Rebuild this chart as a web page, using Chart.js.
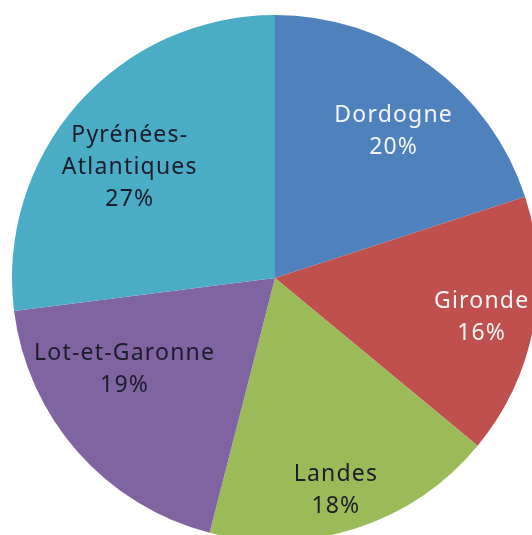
<!DOCTYPE html>
<html>
<head>
<meta charset="utf-8">
<script src="https://cdn.jsdelivr.net/npm/chart.js@4/dist/chart.umd.min.js"></script>
<style>
  html, body { margin: 0; padding: 0; background: #fff; overflow: hidden; width: 532px; height: 535px; }
  #wrap { position: absolute; left: 12px; top: 15px; width: 526px; height: 526px; }
</style>
</head>
<body>
<div id="wrap"><canvas id="pie" width="526" height="526"></canvas></div>
<script>
// shares per département, clockwise from 12 o'clock
const REGIONS = ["Dordogne", "Gironde", "Landes", "Lot-et-Garonne", "Pyrénées-Atlantiques"];
const LABEL_LINES = [["Dordogne"], ["Gironde"], ["Landes"], ["Lot-et-Garonne"], ["Pyrénées-", "Atlantiques"]];
const SHARES = [20, 16, 18, 19, 27];

const COLORS = ["#4f81bd", "#c0504d", "#9bbb59", "#8064a2", "#4bacc6"];
const TEXT_COLORS = ["#f4f4f4", "#f4f4f4", "#1c1c2a", "#1c1c2a", "#1c1c2a"];
// best-fit style label anchors: [fraction of radius, angular nudge in degrees]
const ANCHORS = [[0.717, 3], [0.80, 0], [0.84, 2], [0.67, 10], [0.695, -4]];

const FONT = "'Noto Sans', sans-serif";

const sliceLabels = {
  id: "sliceLabels",
  afterDatasetsDraw(chart) {
    const { ctx } = chart;
    const meta = chart.getDatasetMeta(0);
    ctx.save();
    ctx.font = `23px ${FONT}`;
    ctx.letterSpacing = "1.2px";
    ctx.textAlign = "center";
    ctx.textBaseline = "middle";
    meta.data.forEach((arc, i) => {
      const { x, y, startAngle, endAngle, outerRadius } = arc.getProps(["x", "y", "startAngle", "endAngle", "outerRadius"], true);
      const [f, nudge] = ANCHORS[i];
      const mid = (startAngle + endAngle) / 2 + nudge * Math.PI / 180;
      const cx = x + Math.cos(mid) * outerRadius * f;
      const cy = y + Math.sin(mid) * outerRadius * f;
      const lines = [...LABEL_LINES[i], SHARES[i] + "%"];
      const lh = 32;
      ctx.fillStyle = TEXT_COLORS[i];
      lines.forEach((t, k) => {
        ctx.fillText(t, cx, cy + (k - (lines.length - 1) / 2) * lh);
      });
    });
    ctx.restore();
  }
};

new Chart(document.getElementById("pie"), {
  type: "pie",
  data: {
    labels: REGIONS,
    datasets: [{ data: SHARES, backgroundColor: COLORS, borderWidth: 0 }]
  },
  options: {
    responsive: false,
    animation: false,
    layout: { padding: 0 },
    plugins: { legend: { display: false }, tooltip: { enabled: false } }
  },
  plugins: [sliceLabels]
});
</script>
</body>
</html>
